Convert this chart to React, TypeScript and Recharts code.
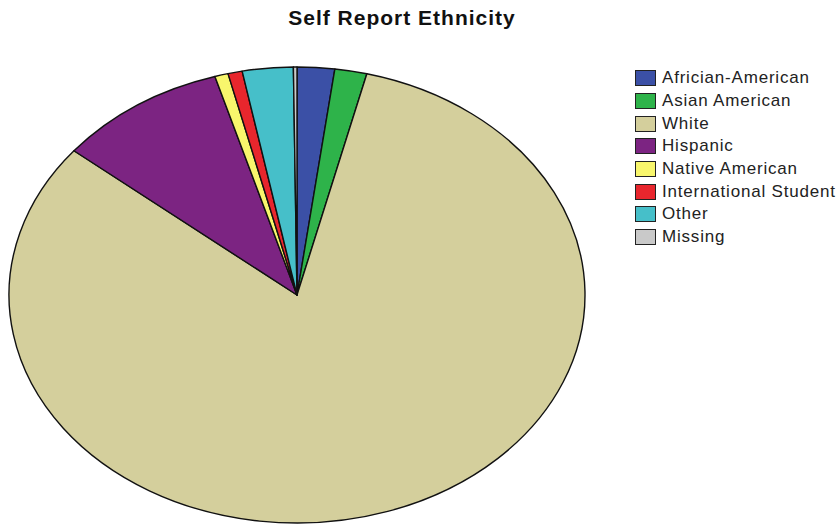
import { PieChart, Pie, Cell, Legend } from 'recharts';

const groups = [
  'Africian-American',
  'Asian American',
  'White',
  'Hispanic',
  'Native American',
  'International Student',
  'Other',
  'Missing',
];
const percents = [2.1, 1.8, 82.0, 9.5, 0.75, 0.8, 2.85, 0.2];
const colors = ['#3b50a6', '#2eb34a', '#d4cf9c', '#7c2482', '#f8f66c', '#e8262d', '#46bfc9', '#c9c9c9'];

const data = groups.map((name, i) => ({ name, value: percents[i] }));

// the original pie is squashed vertically, so draw each slice as an elliptical sector
const RY_RATIO = 228 / 288;
const RAD = Math.PI / 180;

function EllipseSector(props: any) {
  const { cx, cy, outerRadius, startAngle, endAngle, fill } = props;
  const rx = outerRadius;
  const ry = outerRadius * RY_RATIO;
  const x1 = cx + rx * Math.cos(startAngle * RAD);
  const y1 = cy - ry * Math.sin(startAngle * RAD);
  const x2 = cx + rx * Math.cos(endAngle * RAD);
  const y2 = cy - ry * Math.sin(endAngle * RAD);
  const large = Math.abs(endAngle - startAngle) > 180 ? 1 : 0;
  const d = `M${cx},${cy} L${x1},${y1} A${rx},${ry} 0 ${large} 1 ${x2},${y2} Z`;
  return <path d={d} fill={fill} stroke="#111" strokeWidth={1.4} strokeLinejoin="round" />;
}

function LegendBox() {
  return (
    <div style={{ fontFamily: '"Liberation Sans", Arial, sans-serif', fontSize: 17, color: '#222' }}>
      {groups.map((g, i) => (
        <div key={g} style={{ display: 'flex', alignItems: 'center', height: 22.7 }}>
          <span
            style={{
              boxSizing: 'border-box',
              width: 21,
              height: 16,
              background: colors[i],
              border: '1.5px solid #222',
              marginRight: 6,
              flexShrink: 0,
            }}
          />
          <span style={{ letterSpacing: 0.8, whiteSpace: 'nowrap' }}>{g}</span>
        </div>
      ))}
    </div>
  );
}

export default function App() {
  return (
    <div style={{ position: 'absolute', left: 0, top: 0, width: 837, height: 525, background: '#fff' }}>
      <div
        style={{
          position: 'absolute',
          top: 6,
          left: 0,
          width: 804,
          textAlign: 'center',
          fontFamily: '"Liberation Sans", Arial, sans-serif',
          fontWeight: 'bold',
          fontSize: 21,
          letterSpacing: 1,
          color: '#111',
        }}
      >
        Self Report Ethnicity
      </div>
      <PieChart width={837} height={525} margin={{ top: 0, right: 0, bottom: 0, left: 0 }}>
        <Pie
          data={data}
          dataKey="value"
          nameKey="name"
          cx={297}
          cy={295}
          outerRadius={288}
          startAngle={90}
          endAngle={-270}
          shape={EllipseSector}
          isAnimationActive={false}
        >
          {data.map((d, i) => (
            <Cell key={d.name} fill={colors[i]} />
          ))}
        </Pie>
        <Legend
          content={<LegendBox />}
          wrapperStyle={{ top: 67, left: 635, width: 202 }}
        />
      </PieChart>
    </div>
  );
}
